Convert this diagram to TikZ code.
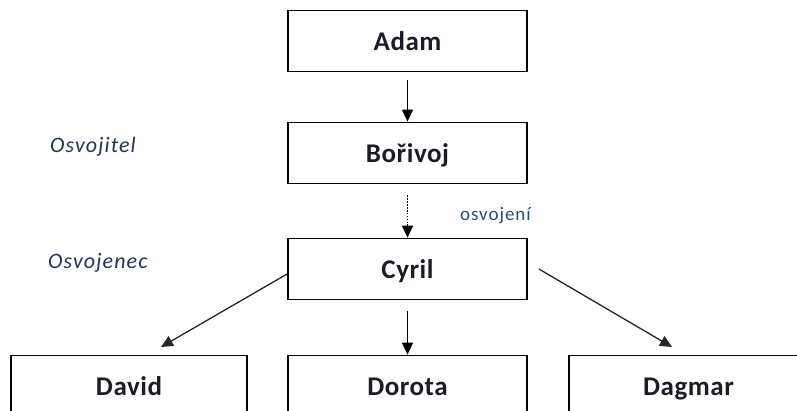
\documentclass[tikz,border=0pt]{standalone}
\usepackage{fontspec}
\setmainfont{Carlito}
\usetikzlibrary{arrows.meta,calc}
\definecolor{boxtext}{HTML}{1C1C28}
\definecolor{sidetext}{HTML}{223458}
\definecolor{notetext}{HTML}{2A4A7A}
\newfontfamily\spacedfont[LetterSpace=5]{Carlito}
\newfontfamily\boxfont[LetterSpace=2]{Carlito}
\tikzset{
  person/.style={draw=black, line width=1.8pt, rectangle, minimum width=239pt, minimum height=61pt,
    inner sep=0pt, font=\boxfont\fontsize{27}{31}\selectfont\bfseries, text=boxtext,
    text height=18pt, text depth=0pt},
  sidelabel/.style={font=\spacedfont\fontsize{22}{26}\selectfont\itshape, text=sidetext, anchor=west, inner sep=0pt},
  notelabel/.style={font=\spacedfont\fontsize{19}{22}\selectfont, text=notetext, anchor=west, inner sep=0pt},
  arr/.style={-{Triangle[length=12pt,width=11pt]}, line width=1.6pt, black},
  diag/.style={-{Triangle[length=12pt,width=11pt]}, line width=1.3pt, black!85},
  dotarr/.style={-{Triangle[length=12pt,width=11pt]}, line width=1.8pt, dash pattern=on 1.6pt off 1.3pt, black}
}
\begin{document}
\begin{tikzpicture}[x=1pt,y=-1pt]
\path[use as bounding box] (0,0) rectangle (797,410);
\clip (0,0) rectangle (797,410);
\node[person] (adam) at (407.5,41) {Adam};
\node[person] (borivoj) at (407.5,153) {Bořivoj};
\node[person] (cyril) at (407.5,269) {Cyril};
\node[person, minimum width=236pt] (david) at (129,386) {David};
\node[person] (dorota) at (407.5,386) {Dorota};
\node[person] (dagmar) at (688.5,386) {Dagmar};
\node[sidelabel] (osvojitel) at (50,147) {Osvojitel};
\node[sidelabel] (osvojenec) at (48,263) {Osvojenec};
\node[notelabel] (osvojeni) at (460,216) {osvojení};
\coordinate (dl) at (161,347);
\coordinate (dr) at (672,347);
\draw[arr] ([yshift=-8pt]adam.south) -- (borivoj.north);
\draw[dotarr] ([yshift=-11pt]borivoj.south) -- (cyril.north);
\draw[arr] ([yshift=-11pt]cyril.south) -- (dorota.north);
\draw[diag] ([yshift=-5pt]cyril.west) -- (dl);
\draw[diag] ([xshift=11pt]cyril.east) -- (dr);
\end{tikzpicture}
\end{document}
